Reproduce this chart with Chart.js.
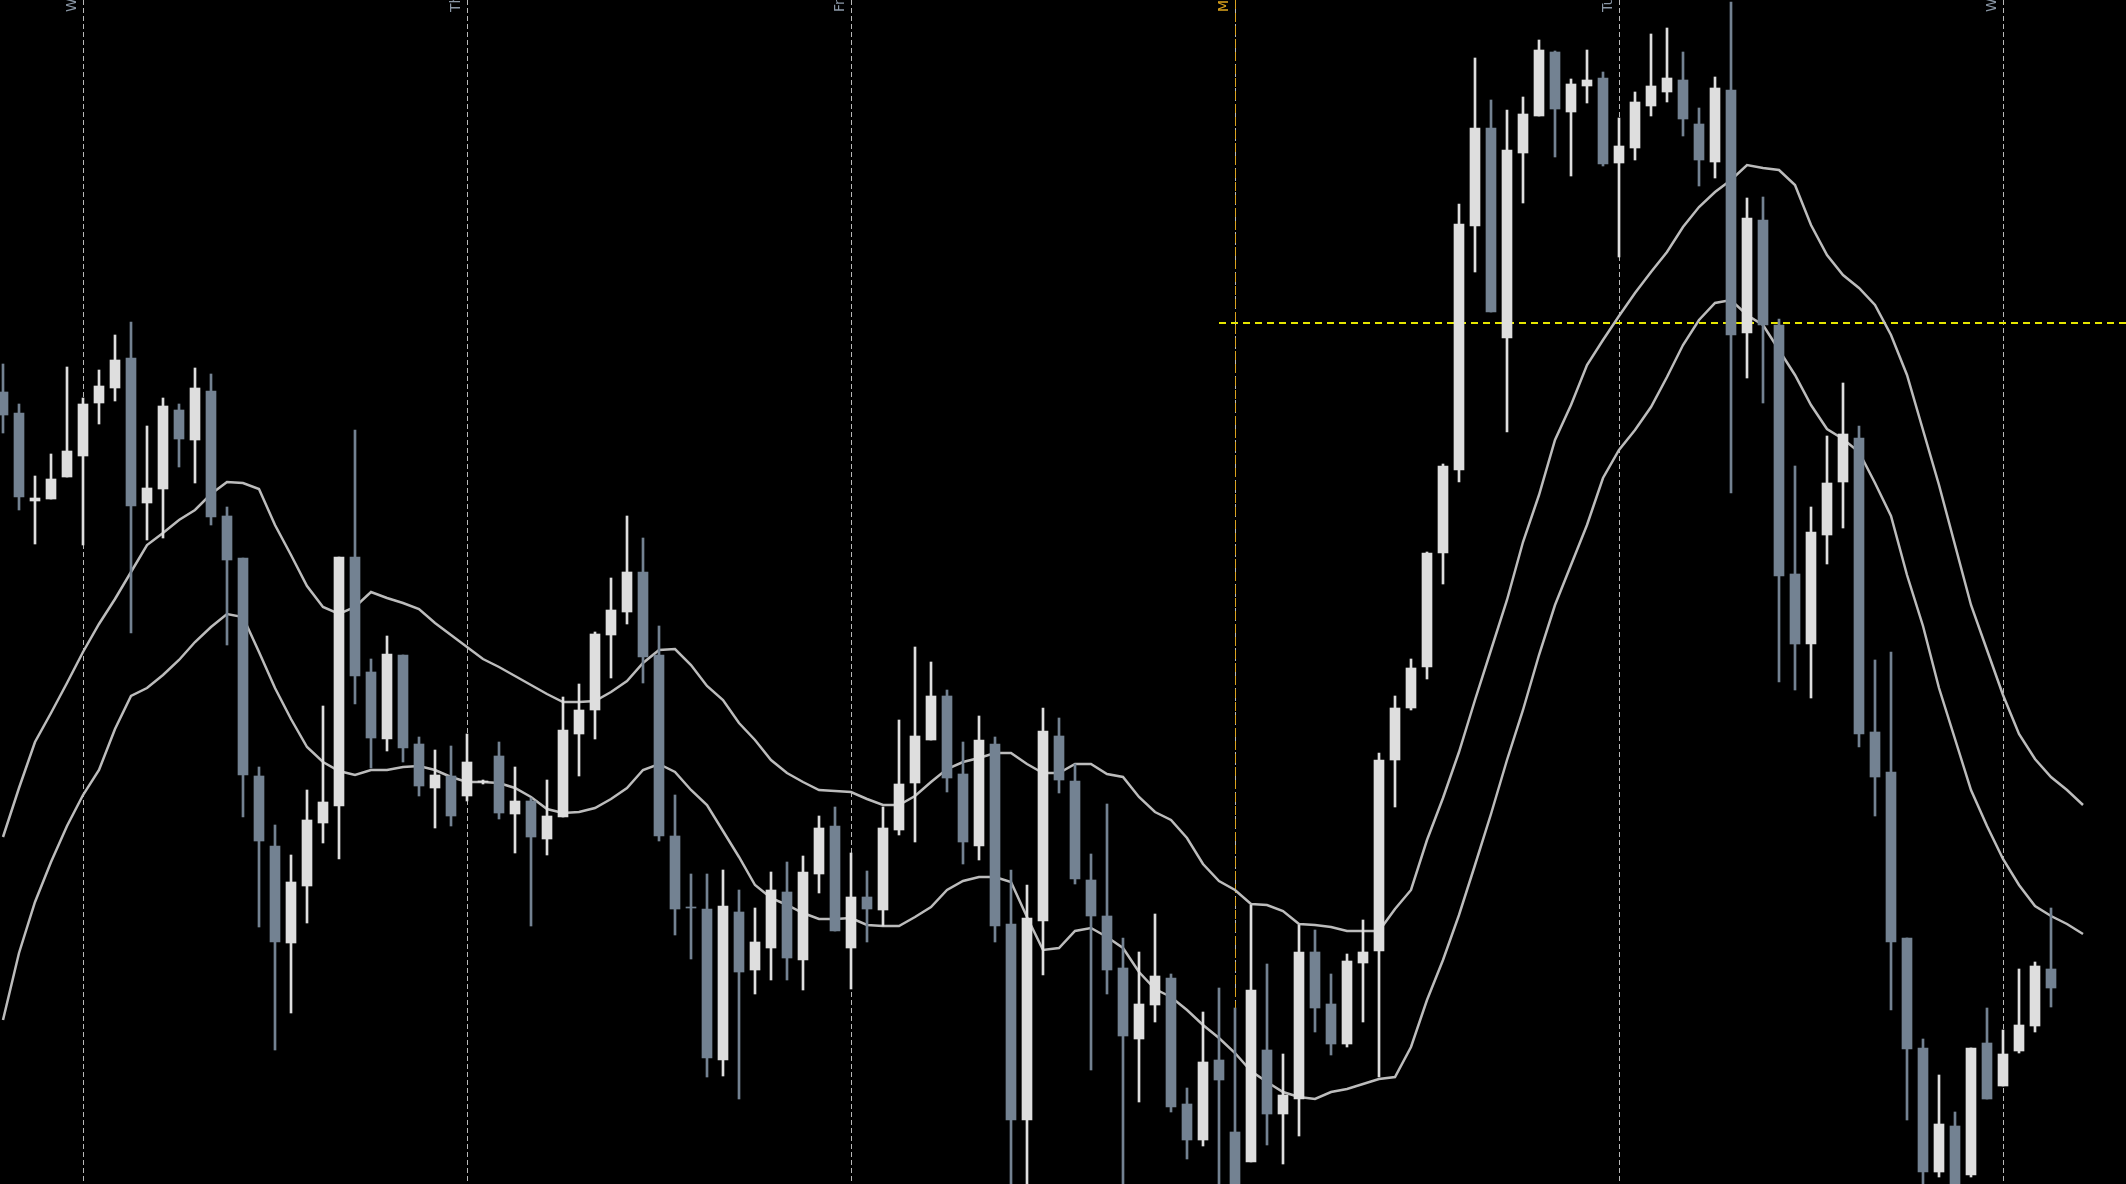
<!DOCTYPE html>
<html>
<head>
<meta charset="utf-8">
<script src="https://cdn.jsdelivr.net/npm/chart.js@4.4.0/dist/chart.umd.min.js"></script>
<style>
  html, body { margin: 0; padding: 0; background: #000; overflow: hidden; }
  #wrap { width: 2126px; height: 1184px; }
</style>
</head>
<body>
<div id="wrap"><canvas id="chart" width="2126" height="1184"></canvas></div>
<script>
// Hourly candles, price in points (chart bottom = 0)
const opens = [
  792, 771, 683, 685, 707, 728, 781, 796, 826, 681,
  695, 774, 744, 793, 668, 626, 408, 338, 241, 298,
  361, 378, 627, 512, 445, 529, 440, 396, 408, 388,
  402, 428, 370, 383, 345, 367, 450, 474, 549, 572,
  612, 529, 348, 277, 275, 124, 272, 214, 236, 292,
  224, 310, 358, 236, 287, 274, 354, 401, 444, 488,
  410, 338, 440, 260, 64, 263, 448, 403, 304, 268,
  216, 145, 179, 206, 80, 44, 124, 52, 22, 134,
  70, 85, 232, 180, 140, 221, 233, 424, 476, 517,
  631, 714, 958, 1056, 846, 1031, 1068, 1132, 1072, 1098,
  1106, 1021, 1036, 1078, 1092, 1104, 1060, 1022, 1094, 851,
  964, 859, 610, 540, 649, 702, 746, 452, 412, 246,
  136, 12, 58, 9, 141, 98, 133, 158, 215
];
const highs = [
  820, 780, 708, 730, 817, 786, 814, 849, 862, 758,
  786, 780, 816, 810, 677, 626, 417, 359, 329, 394,
  478, 627, 754, 525, 548, 529, 447, 434, 438, 450,
  404, 442, 417, 386, 404, 487, 500, 552, 606, 668,
  646, 558, 389, 310, 310, 314, 294, 276, 312, 322,
  328, 368, 377, 331, 313, 377, 464, 537, 522, 494,
  442, 468, 447, 314, 299, 476, 466, 420, 330, 380,
  246, 232, 270, 210, 96, 172, 196, 176, 279, 220,
  130, 259, 254, 210, 230, 264, 431, 488, 525, 632,
  720, 980, 1126, 1084, 1074, 1087, 1144, 1133, 1105, 1134,
  1112, 1066, 1092, 1150, 1156, 1132, 1076, 1107, 1182, 986,
  987, 865, 718, 677, 748, 801, 758, 524, 532, 246,
  145, 109, 72, 136, 176, 154, 215, 222, 276
];
const lows = [
  751, 674, 640, 685, 707, 639, 760, 783, 551, 644,
  646, 717, 701, 659, 539, 367, 257, 134, 171, 261,
  341, 325, 480, 416, 433, 422, 388, 356, 358, 383,
  400, 365, 331, 258, 329, 367, 408, 445, 506, 560,
  501, 343, 249, 225, 107, 108, 85, 190, 204, 204,
  194, 291, 253, 195, 242, 258, 349, 342, 444, 392,
  320, 324, 242, -10, -10, 209, 391, 300, 114, 190,
  -10, 82, 162, 72, 25, 38, -10, -10, 22, 39,
  20, 48, 152, 129, 137, 162, 107, 377, 474, 505,
  600, 702, 912, 872, 752, 981, 1068, 1027, 1008, 1081,
  1018, 927, 1024, 1068, 1082, 1048, 998, 1006, 691, 806,
  781, 502, 494, 486, 620, 656, 437, 368, 174, 64,
  -10, 7, -10, 7, 85, 98, 131, 152, 177
];
const closes = [
  769, 687, 686, 705, 733, 780, 798, 824, 678, 696,
  778, 745, 796, 667, 624, 409, 343, 242, 302, 364,
  382, 627, 508, 446, 530, 436, 398, 409, 368, 422,
  403, 371, 383, 347, 368, 454, 474, 550, 574, 612,
  527, 348, 275, 276, 126, 278, 212, 242, 294, 226,
  312, 356, 253, 287, 275, 356, 400, 448, 488, 406,
  342, 444, 258, 64, 266, 453, 404, 305, 268, 214,
  148, 180, 208, 77, 44, 122, 104, -5, 194, 70,
  89, 232, 176, 140, 223, 232, 424, 476, 516, 631,
  718, 960, 1056, 872, 1034, 1070, 1134, 1075, 1100, 1104,
  1020, 1038, 1082, 1098, 1106, 1065, 1024, 1096, 849, 966,
  859, 608, 540, 652, 701, 750, 450, 407, 242, 135,
  12, 60, -5, 136, 85, 130, 159, 218, 196
];

// Two moving averages (they run two bars past the last candle)
const maFast = [
  347, 396, 442, 471, 501, 532, 560, 585, 612, 639,
  651, 664, 674, 690, 702, 701, 695, 659, 629, 598,
  577, 570, 577, 592, 586, 581, 575, 561, 549, 537,
  525, 517, 508, 499, 490, 482, 482, 483, 492, 503,
  521, 534, 535, 519, 498, 484, 461, 444, 424, 411,
  402, 394, 393, 392, 385, 379, 379, 388, 402, 415,
  422, 426, 431, 431, 420, 411, 411, 420, 420, 410,
  407, 387, 372, 364, 346, 320, 303, 294, 280, 279,
  273, 260, 259, 257, 253, 253, 253, 275, 294, 344,
  386, 432, 484, 534, 584, 642, 689, 744, 779, 819,
  844, 868, 891, 912, 932, 957, 977, 992, 1004, 1019,
  1016, 1014, 999, 959, 929, 909, 896, 879, 849, 809,
  754, 699, 639, 579, 534, 489, 450, 425, 407, 394, 379
];
const maSlow = [
  164, 231, 282, 322, 358, 389, 414, 455, 488, 496,
  509, 524, 542, 557, 570, 567, 532, 496, 465, 437,
  422, 413, 409, 414, 414, 417, 418, 414, 407, 402,
  402, 401, 396, 387, 375, 371, 372, 376, 385, 396,
  414, 420, 412, 394, 379, 353, 327, 299, 286, 279,
  271, 265, 265, 266, 259, 258, 258, 267, 277, 294,
  303, 307, 307, 302, 267, 234, 236, 253, 256, 247,
  236, 212, 195, 187, 174, 159, 146, 131, 113, 102,
  92, 87, 85, 92, 95, 100, 105, 107, 137, 184,
  224, 269, 319, 370, 424, 474, 529, 579, 619, 659,
  706, 734, 754, 777, 807, 839, 864, 881, 884, 869,
  859, 834, 809, 779, 755, 745, 732, 701, 668, 609,
  558, 496, 445, 394, 358, 325, 299, 278, 268, 260, 250
];

// Day separators (bar index) and their labels
const dayStarts = [5, 29, 53, 77, 101, 125];
const dayLabels = ['Wed', 'Thu', 'Fri', 'Mon', 'Tue', 'Wed'];

// Crosshair
const crossBar = 77;
const crossFrom = 76;
const crossPrice = 861;

const upColor = '#dedede';
const downColor = '#738292';

const candleColors = closes.map((c, i) => c >= opens[i] ? upColor : downColor);
const wicks = opens.map((_, i) => ({ x: i, y: [lows[i], highs[i]] }));
const bodies = opens.map((_, i) => ({ x: i, y: [opens[i], closes[i]] }));
const fastPts = maFast.map((v, i) => ({ x: i, y: v }));
const slowPts = maSlow.map((v, i) => ({ x: i, y: v }));

// Draw separators and crosshair under the candles, labels on top
const guides = {
  id: 'guides',
  beforeDatasetsDraw(chart) {
    const { ctx, chartArea: a, scales: { x, y } } = chart;
    ctx.save();
    ctx.lineWidth = 1;
    ctx.strokeStyle = '#b8b8b8';
    ctx.setLineDash([5, 3]);
    dayStarts.forEach(d => {
      const px = Math.round(x.getPixelForValue(d)) + 0.5;
      ctx.beginPath();
      ctx.moveTo(px, a.top);
      ctx.lineTo(px, a.bottom);
      ctx.stroke();
    });

    const cx = Math.round(x.getPixelForValue(crossBar)) + 0.5;
    ctx.strokeStyle = '#d9a11c';
    ctx.setLineDash([9, 4]);
    ctx.beginPath();
    ctx.moveTo(cx, a.top);
    ctx.lineTo(cx, a.bottom);
    ctx.stroke();

    const cy = Math.round(y.getPixelForValue(crossPrice));
    ctx.strokeStyle = '#e6e600';
    ctx.lineWidth = 2;
    ctx.setLineDash([7, 5]);
    ctx.beginPath();
    ctx.moveTo(x.getPixelForValue(crossFrom), cy);
    ctx.lineTo(a.right, cy);
    ctx.stroke();
    ctx.restore();
  },
  afterDatasetsDraw(chart) {
    const { ctx, scales: { x } } = chart;
    ctx.save();
    ctx.font = '14px "DejaVu Sans"';
    ctx.textBaseline = 'alphabetic';
    dayStarts.forEach((d, k) => {
      const px = Math.round(x.getPixelForValue(d));
      ctx.save();
      ctx.translate(px - 7, 12);
      ctx.rotate(-Math.PI / 2);
      ctx.fillStyle = d === crossBar ? '#d9a11c' : '#8a97a6';
      ctx.fillText(dayLabels[k], 0, 0);
      ctx.restore();
    });
    ctx.restore();
  }
};

new Chart(document.getElementById('chart'), {
  type: 'bar',
  data: {
    datasets: [
      {
        type: 'line',
        data: fastPts,
        borderColor: '#bcbcbc',
        borderWidth: 2.5,
        pointRadius: 0,
        tension: 0,
        order: 3
      },
      {
        type: 'line',
        data: slowPts,
        borderColor: '#bcbcbc',
        borderWidth: 2.5,
        pointRadius: 0,
        tension: 0,
        order: 3
      },
      {
        data: wicks,
        backgroundColor: candleColors,
        barThickness: 2,
        grouped: false,
        order: 2
      },
      {
        data: bodies,
        backgroundColor: candleColors,
        barThickness: 10,
        grouped: false,
        order: 1
      }
    ]
  },
  options: {
    responsive: false,
    animation: false,
    events: [],
    layout: { padding: 0 },
    plugins: {
      legend: { display: false },
      tooltip: { enabled: false }
    },
    scales: {
      x: { type: 'linear', display: false, offset: false, min: -0.1875, max: 132.6875 },
      y: { type: 'linear', display: false, min: 0, max: 1184 }
    }
  },
  plugins: [guides]
});
</script>
</body>
</html>
